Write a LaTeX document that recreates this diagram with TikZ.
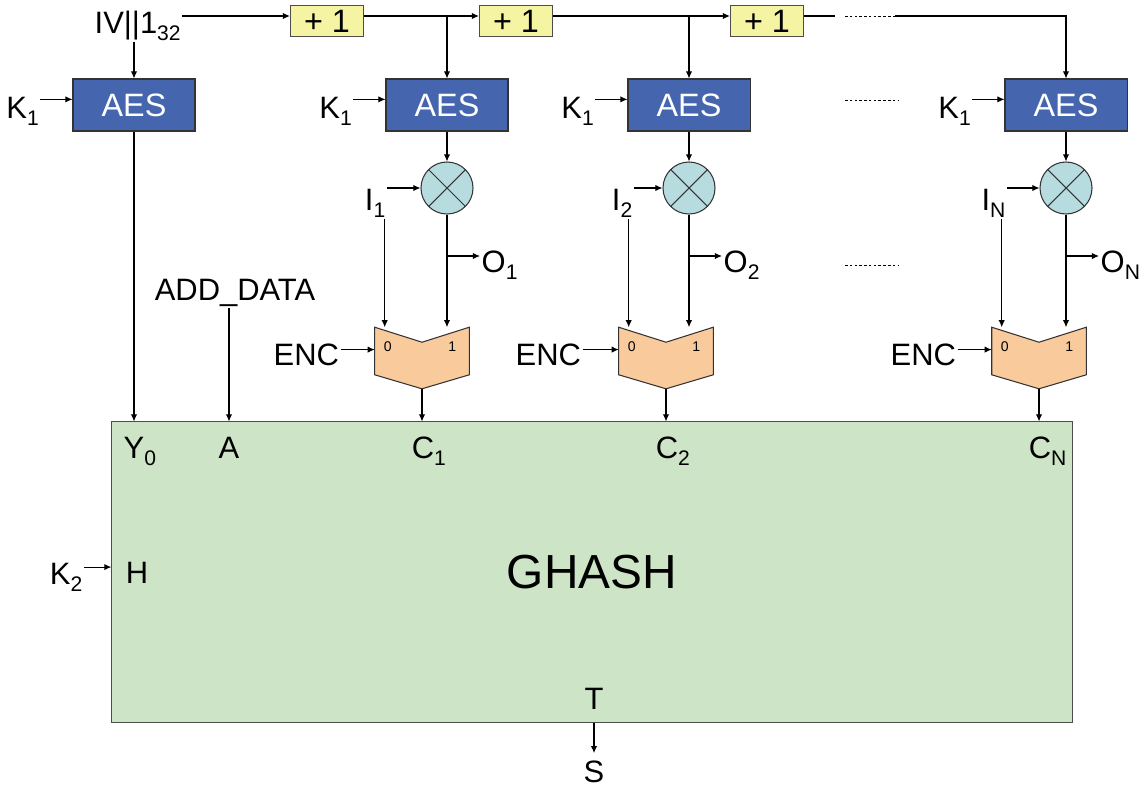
\documentclass[tikz,border=0pt]{standalone}
\usepackage{fontspec}
\setmainfont{Liberation Sans}
\usepackage{tikz}
\usetikzlibrary{arrows.meta, positioning, calc}
\usepackage{xcolor}

\definecolor{aesblue}{HTML}{4566AE}
\definecolor{incyellow}{HTML}{F5F4A2}
\definecolor{xorteal}{HTML}{B6DCE0}
\definecolor{muxorange}{HTML}{F9CB9C}
\definecolor{hashgreen}{HTML}{CDE5C6}

\newcommand{\lowsub}[1]{\raisebox{-5pt}{\fontsize{15}{15}\selectfont #1}}
% mux body drawn round an empty node, with its 0/1 marks
\newcommand{\drawmux}[1]{%
  \draw[muxbody] (#1.north west) -- ($(#1.north)+(0,15)$) -- (#1.north east)
    -- ($(#1.south east)+(0,-14)$) -- (#1.south) -- ($(#1.south west)+(0,-14)$) -- cycle;
  \node[digit] (#1-z) at ($(#1.north west)+(13,19)$) {0};
  \node[digit] (#1-o) at ($(#1.north east)+(-17,19)$) {1};
}

\begin{document}
\begin{tikzpicture}[
  x=0.025cm, y=-0.025cm,
  aes/.style  = {draw=black!80, fill=aesblue, text=white, line width=0.75pt,
                 minimum width=3.05cm, minimum height=1.3cm, font=\fontsize{23}{25}\selectfont},
  inc/.style  = {draw=black!70, fill=incyellow, line width=0.75pt, inner sep=0pt,
                 minimum width=1.83cm, minimum height=0.78cm, font=\fontsize{23}{25}\selectfont},
  xor/.style  = {circle, draw=black!80, fill=xorteal, line width=0.75pt, minimum size=1.3cm,
                 path picture={\draw[line width=0.75pt]
                   (path picture bounding box.north west) -- (path picture bounding box.south east)
                   (path picture bounding box.north east) -- (path picture bounding box.south west);}},
  mux/.style  = {minimum width=2.35cm, minimum height=1.525cm, inner sep=0pt},
  muxbody/.style = {draw=black!80, fill=muxorange, line width=0.75pt},
  hash/.style = {draw=black!70, fill=hashgreen, line width=0.75pt,
                 minimum width=24cm, minimum height=7.5cm, font=\fontsize{34}{36}\selectfont},
  lbl/.style  = {font=\fontsize{22}{24}\selectfont, inner sep=1pt},
  digit/.style = {font=\fontsize{10}{12}\selectfont, inner sep=0pt},
  arr/.style  = {-{Latex[length=5pt, width=4.5pt]}, line width=0.75pt},
  wire/.style = {line width=0.75pt},
  dots/.style = {line width=0.5pt, dash pattern=on 1.8pt off 1.6pt},
]
\useasboundingbox (0,0) rectangle (1148,790);

% ── Counter chain ────────────────────────────────────────────────────────────
\node[lbl, anchor=base west] (iv) at (93,33) {IV||1\lowsub{32}};
\coordinate (bus) at (0,16);
\node[inc] (inc1) at (327,21) {+ 1};
\node[inc] (inc2) at (516,21) {+ 1};
\node[inc] (inc3) at (767,21) {+ 1};
\coordinate (gap1) at (835,16);
\coordinate (gap2) at (895,16);

% ── AES blocks ───────────────────────────────────────────────────────────────
\node[aes] (aes0) at (134,105)  {AES};
\node[aes] (aes1) at (447,105)  {AES};
\node[aes] (aes2) at (689,105)  {AES};
\node[aes] (aesN) at (1066,105) {AES};

\draw[arr] (iv.east |- bus) -- (inc1.west |- bus);
\draw[arr] (inc1.east |- bus) -- (inc2.west |- bus);
\draw[arr] (inc2.east |- bus) -- (inc3.west |- bus);
\draw[wire] (inc3.east |- bus) -- (gap1);
\draw[dots] ($(gap1)+(10,0)$) -- (gap2);
\draw[arr] (gap2) -| (aesN.north);
\draw[arr] (aes0 |- iv.south) -- (aes0.north);
\draw[arr] (aes1 |- bus) -- (aes1.north);
\draw[arr] (aes2 |- bus) -- (aes2.north);

\node[lbl, anchor=base east] (key0) at ($(aes0.west)+(-32,13)$) {K\lowsub{1}};
\node[lbl, anchor=base east] (key1) at ($(aes1.west)+(-32,13)$) {K\lowsub{1}};
\node[lbl, anchor=base east] (key2) at ($(aes2.west)+(-32,13)$) {K\lowsub{1}};
\node[lbl, anchor=base east] (keyN) at ($(aesN.west)+(-32,13)$) {K\lowsub{1}};
\coordinate (aes0-k) at ([yshift=4pt]aes0.west);
\coordinate (aes1-k) at ([yshift=4pt]aes1.west);
\coordinate (aes2-k) at ([yshift=4pt]aes2.west);
\coordinate (aesN-k) at ([yshift=4pt]aesN.west);
\draw[arr] (key0.east |- aes0-k) -- (aes0-k);
\draw[arr] (key1.east |- aes1-k) -- (aes1-k);
\draw[arr] (key2.east |- aes2-k) -- (aes2-k);
\draw[arr] (keyN.east |- aesN-k) -- (aesN-k);

% ── XOR with inputs ──────────────────────────────────────────────────────────
\node[xor] (xor1) at (447,188)  {};
\node[xor] (xor2) at (689,188)  {};
\node[xor] (xorN) at (1066,188) {};
\draw[arr] (aes1) -- (xor1);
\draw[arr] (aes2) -- (xor2);
\draw[arr] (aesN) -- (xorN);

\node[lbl, anchor=base east] (in1) at (387,210)  {I\lowsub{1}};
\node[lbl, anchor=base east] (in2) at (634,210)  {I\lowsub{2}};
\node[lbl, anchor=base east] (inN) at (1007,210) {I\lowsub{N}};
\draw[arr] (in1.east |- xor1) -- (xor1);
\draw[arr] (in2.east |- xor2) -- (xor2);
\draw[arr] (inN.east |- xorN) -- (xorN);

% ── Muxes ────────────────────────────────────────────────────────────────────
\node[mux] (mux1) at (422,358)  {};
\node[mux] (mux2) at (666,358)  {};
\node[mux] (muxN) at (1039,358) {};
\drawmux{mux1}
\drawmux{mux2}
\drawmux{muxN}

\coordinate (mux1-0) at ($(mux1.north west)+(10,0)$);
\coordinate (mux2-0) at ($(mux2.north west)+(10,0)$);
\coordinate (muxN-0) at ($(muxN.north west)+(10,0)$);
\draw[arr] (mux1-0 |- in1.south) -- (mux1-0);
\draw[arr] (mux2-0 |- in2.south) -- (mux2-0);
\draw[arr] (muxN-0 |- inN.south) -- (muxN-0);
\draw[arr] (xor1) -- (xor1 |- mux1.north);
\draw[arr] (xor2) -- (xor2 |- mux2.north);
\draw[arr] (xorN) -- (xorN |- muxN.north);

% outputs O
\coordinate (tap1) at (xor1 |- 0,256);
\coordinate (tap2) at (xor2 |- 0,256);
\coordinate (tapN) at (xorN |- 0,256);
\node[lbl, anchor=base west] (out1) at ($(tap1)+(33,16)$) {O\lowsub{1}};
\node[lbl, anchor=base west] (out2) at ($(tap2)+(33,16)$) {O\lowsub{2}};
\node[lbl, anchor=base west] (outN) at ($(tapN)+(33,16)$) {O\lowsub{N}};
\draw[arr] (tap1) -- (out1.west |- tap1);
\draw[arr] (tap2) -- (out2.west |- tap2);
\draw[arr] (tapN) -- (outN.west |- tapN);

% ENC selects
\node[lbl, anchor=base east] (enc1) at ($(mux1.west)+(-34,7)$) {ENC};
\node[lbl, anchor=base east] (enc2) at ($(mux2.west)+(-36,7)$) {ENC};
\node[lbl, anchor=base east] (encN) at ($(muxN.west)+(-34,7)$) {ENC};
\coordinate (mux1-s) at ([yshift=6pt]mux1.west);
\coordinate (mux2-s) at ([yshift=6pt]mux2.west);
\coordinate (muxN-s) at ([yshift=6pt]muxN.west);
\draw[arr] (enc1.east |- mux1-s) -- (mux1-s);
\draw[arr] (enc2.east |- mux2-s) -- (mux2-s);
\draw[arr] (encN.east |- muxN-s) -- (muxN-s);

% skipped columns
\draw[dots] (845,100) -- (898,100);
\draw[dots] (845,265) -- (898,265);

% ── GHASH ────────────────────────────────────────────────────────────────────
\node[hash] (ghash) at (592,572) {GHASH};

\node[lbl, anchor=base] (y0) at (134,458)  {Y\rlap{\lowsub{0}}};
\node[lbl, anchor=base] (la) at (229,458)  {A};
\node[lbl, anchor=base] (c1) at (423,458)  {C\rlap{\lowsub{1}}};
\node[lbl, anchor=base] (c2) at (667,458)  {C\rlap{\lowsub{2}}};
\node[lbl, anchor=base] (cN) at (1040,458) {C\rlap{\lowsub{N}}};
\node[lbl, anchor=base] (lh) at (137,583)  {H};
\node[lbl, anchor=base] (lt) at (594,709)  {T};
\node[lbl, anchor=base] (ls) at (594,782)  {S};
\node[lbl] (adata) at (235,293) {ADD\_DATA};
\node[lbl, anchor=base east] (keyh) at (84,584) {K\lowsub{2}};

\draw[arr] (aes0) -- (aes0 |- ghash.north);
\draw[arr] (adata.south -| la) -- (la |- ghash.north);
\draw[arr] (mux1.south) -- (mux1 |- ghash.north);
\draw[arr] (mux2.south) -- (mux2 |- ghash.north);
\draw[arr] (muxN.south) -- (muxN |- ghash.north);
\coordinate (ghash-h) at ([yshift=3.5pt]ghash.west);
\draw[arr] (keyh.east |- ghash-h) -- (ghash-h);
\draw[arr] (lt |- ghash.south) -- ([yshift=4pt]ls.north);

\end{tikzpicture}
\end{document}
